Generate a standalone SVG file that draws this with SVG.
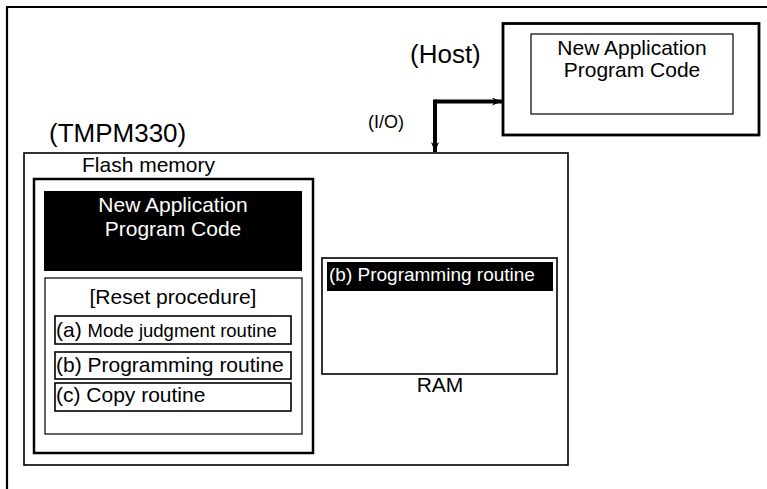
<svg xmlns="http://www.w3.org/2000/svg" width="767" height="489" viewBox="0 0 767 489">
<style>
text{font-family:"Liberation Sans",Arial,sans-serif;fill:#000}
.w{fill:#fff}
.box{fill:none;stroke:#000}
.c{text-anchor:middle}
</style>
<defs>
<marker id="ah" viewBox="0 0 10 8" refX="10" refY="4" markerWidth="10" markerHeight="8" markerUnits="userSpaceOnUse" orient="auto">
<path d="M0,0 L10,4 L0,8 L3,4 Z" fill="#000"/>
</marker>
</defs>
<rect width="767" height="489" fill="#fff"/>
<path d="M7,489 V7 H767" fill="none" stroke="#000" stroke-width="2.2"/>
<g id="host">
<rect class="box" x="503" y="23.5" width="256" height="111.5" stroke-width="2.8"/>
<rect class="box" x="531" y="34" width="202" height="80" stroke-width="1.2"/>
<text class="c" x="632" y="55" font-size="21">New Application</text>
<text class="c" x="632" y="77" font-size="21">Program Code</text>
<text x="410" y="63" font-size="26">(Host)</text>
</g>
<g id="tmpm330">
<text x="49" y="142" font-size="26">(TMPM330)</text>
<rect class="box" x="24" y="153" width="544" height="312" stroke-width="1.6"/>
</g>
<g id="flash">
<text x="82" y="172" font-size="21">Flash memory</text>
<rect class="box" x="34" y="179" width="279" height="274" stroke-width="2.5"/>
<rect x="44" y="191" width="258" height="80" fill="#000"/>
<text class="c w" x="173" y="212" font-size="21">New Application</text>
<text class="c w" x="173" y="236" font-size="21">Program Code</text>
</g>
<g id="reset">
<rect class="box" x="45" y="278" width="257" height="156" stroke-width="1.2"/>
<text class="c" x="173" y="304" font-size="21">[Reset procedure]</text>
</g>
<g id="routine-a">
<rect class="box" x="55" y="316" width="236" height="28" stroke-width="1.6"/>
<text x="56" y="337" font-size="21">(a) <tspan font-size="18.5">Mode judgment routine</tspan></text>
</g>
<g id="routine-b">
<rect class="box" x="55" y="352" width="236" height="27" stroke-width="1.6"/>
<text x="56" y="372" font-size="21">(b) Programming routine</text>
</g>
<g id="routine-c">
<rect class="box" x="55" y="383" width="236" height="28" stroke-width="1.6"/>
<text x="56" y="402" font-size="21">(c) Copy routine</text>
</g>
<g id="ram">
<rect class="box" x="322" y="258" width="235" height="116" stroke-width="1.6"/>
<rect x="327" y="262" width="226" height="29" fill="#000"/>
<text class="w" x="329" y="281" font-size="19">(b) Programming routine</text>
<text class="c" x="440" y="392" font-size="21">RAM</text>
</g>
<g id="connectors">
<text x="368" y="128" font-size="18">(I/O)</text>
<path d="M435,101.5 H502" fill="none" stroke="#000" stroke-width="4" marker-end="url(#ah)"/>
<path d="M435,99.5 V152" fill="none" stroke="#000" stroke-width="4" marker-end="url(#ah)"/>
</g>
</svg>
